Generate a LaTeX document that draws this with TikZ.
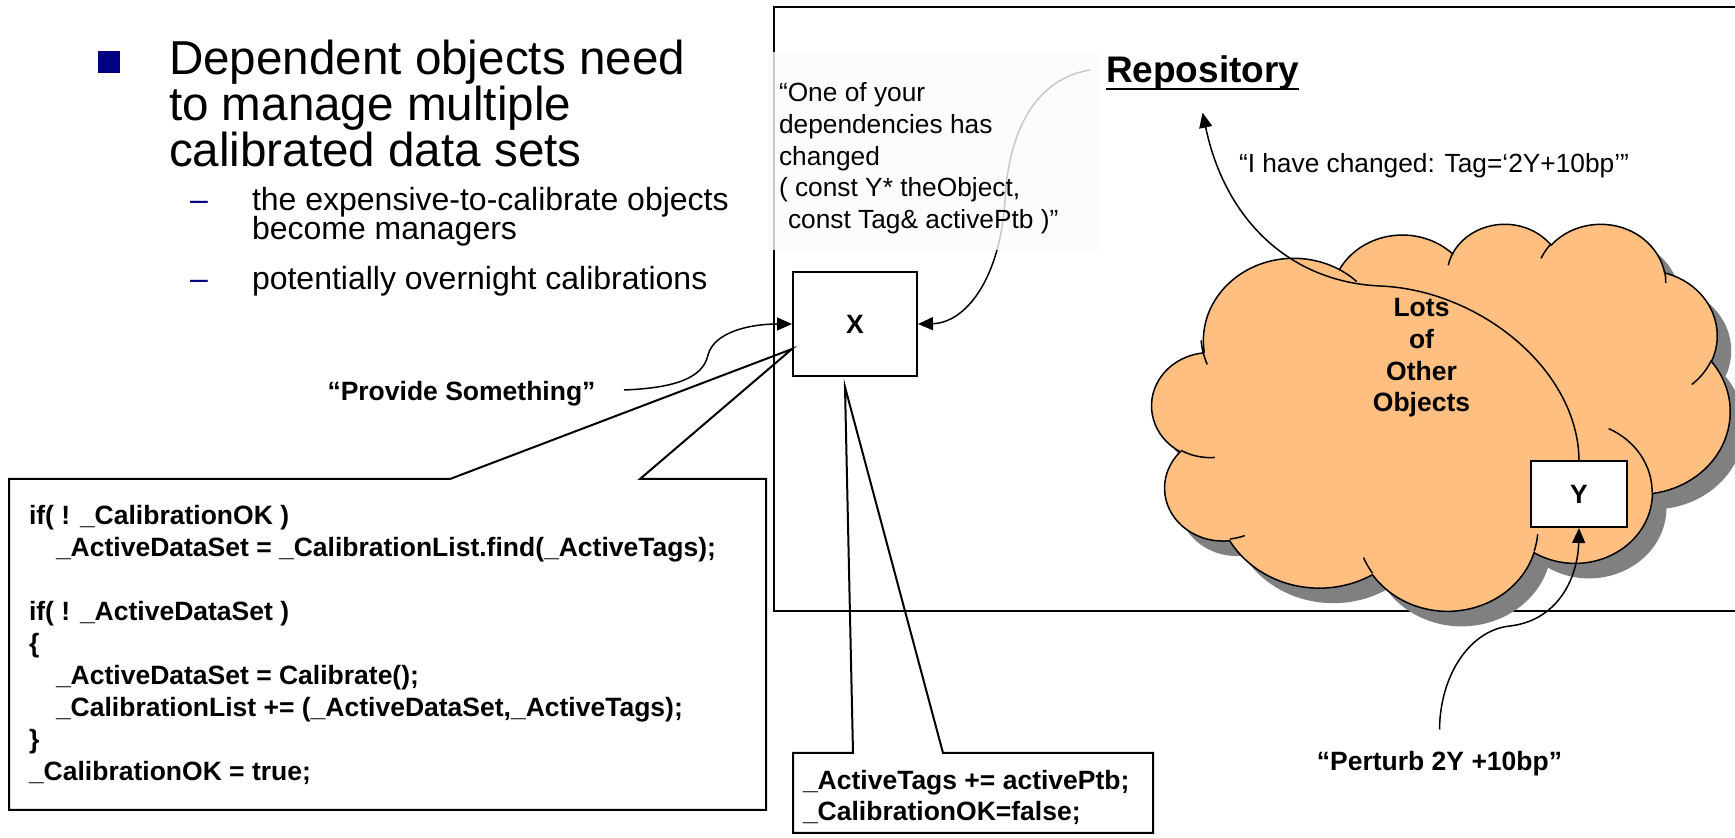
\documentclass[tikz,border=0pt]{standalone}
\usepackage{fontspec}
\setmainfont{Liberation Sans}
\usetikzlibrary{arrows.meta}
\definecolor{navy}{RGB}{0,0,128}
\definecolor{cloudfill}{RGB}{255,191,128}
\definecolor{cloudshadow}{RGB}{128,128,128}
\makeatletter
\newcommand\cldcalc[5]{%
  \pgfmathsetmacro\cld@a{atan2((#2)*sin(#4),(#3)*cos(#4))}%
  \pgfmathsetmacro\cld@b{atan2((#2)*sin((#4)+(#5)),(#3)*cos((#4)+(#5)))}%
  \pgfmathsetmacro\cld@b{(\cld@b<\cld@a) ? (\cld@b+360) : (\cld@b)}%
  \expandafter\xdef\csname cldS#1\endcsname{\cld@a}%
  \expandafter\xdef\csname cldE#1\endcsname{\cld@b}%
}
\makeatother
\newcommand\leftlines[2]{\vtop{\baselineskip=#1\relax\lineskiplimit=-100pt\lineskip=0pt\halign{##\hfil\cr#2\crcr}}}
\newcommand\centerlines[2]{\vtop{\baselineskip=#1\relax\lineskiplimit=-100pt\lineskip=0pt\halign{\hfil##\hfil\cr#2\crcr}}}
\tikzset{
  txt/.style={inner sep=0pt, outer sep=0pt},
  boldlbl/.style={txt, font=\fontsize{13.25}{16}\selectfont\bfseries},
  quotetxt/.style={txt, font=\fontsize{13.15}{16}\selectfont},
  conn/.style={line width=0.75pt, -{Triangle[length=7.5pt,width=6.5pt]}},
  boxline/.style={line width=1pt, fill=white, line join=miter},
  objbox/.style={draw, line width=1pt, fill=white, inner sep=0pt, font=\fontsize{13.25}{16}\selectfont\bfseries},
  cloudunits/.style={x=0.0668981pt, y=-0.0447917pt},
}
\def\cloudoutline{(390,1437)
 arc[start angle=\cldSa,end angle=\cldEa,x radius=675.3,y radius=919.0]
 arc[start angle=\cldSb,end angle=\cldEb,x radius=533.3,y radius=726.7]
 arc[start angle=\cldSc,end angle=\cldEc,x radius=436.5,y radius=594.5]
 arc[start angle=\cldSd,end angle=\cldEd,x radius=485.7,y radius=659.5]
 arc[start angle=\cldSe,end angle=\cldEe,x radius=533.3,y radius=727.3]
 arc[start angle=\cldSf,end angle=\cldEf,x radius=677.5,y radius=922.0]
 arc[start angle=\cldSg,end angle=\cldEg,x radius=578.5,y radius=786.7]
 arc[start angle=\cldSh,end angle=\cldEh,x radius=675.2,y radius=921.5]
 arc[start angle=\cldSi,end angle=\cldEi,x radius=772.0,y radius=1054.3]
 arc[start angle=\cldSj,end angle=\cldEj,x radius=436.0,y radius=591.8]
 arc[start angle=\cldSk,end angle=\cldEk,x radius=434.5,y radius=594.5] -- cycle}
\def\cloudinner{
 (469.3,2617.7) arc[start angle=\cldSia,end angle=\cldEia,x radius=434.5,y radius=594.5]
 (692.8,3489.9) arc[start angle=\cldSib,end angle=\cldEib,x radius=436.0,y radius=591.8]
 (1647.8,3909.0) arc[start angle=\cldSic,end angle=\cldEic,x radius=675.2,y radius=921.5]
 (2882.7,3475.1) arc[start angle=\cldSid,end angle=\cldEid,x radius=675.2,y radius=921.5]
 (3412.9,2295.4) arc[start angle=\cldSie,end angle=\cldEie,x radius=578.5,y radius=786.7]
 (4179.8,1535.4) arc[start angle=\cldSif,end angle=\cldEif,x radius=533.3,y radius=727.3]
 (3832.4,542.6) arc[start angle=\cldSig,end angle=\cldEig,x radius=485.7,y radius=659.5]
 (2907.8,395.2) arc[start angle=\cldSih,end angle=\cldEih,x radius=485.7,y radius=659.5]
 (2214.1,472.0) arc[start angle=\cldSii,end angle=\cldEii,x radius=436.5,y radius=594.5]
 (1400.0,519.2) arc[start angle=\cldSij,end angle=\cldEij,x radius=675.3,y radius=919.0]
 (412.7,1578.9) arc[start angle=\cldSik,end angle=\cldEik,x radius=675.3,y radius=919.0]}
\begin{document}
\begin{tikzpicture}[x=0.5pt,y=-0.5pt]
\useasboundingbox (0,0) rectangle (1735,838);
% cloud geometry (angles converted to parametric form)
\cldcalc{a}{675.3}{919.0}{-190.4875}{123.7805}
\cldcalc{b}{533.3}{726.7}{-144.1024}{89.9452}
\cldcalc{c}{436.5}{594.5}{-145.8079}{99.7230}
\cldcalc{d}{485.7}{659.5}{-130.9861}{117.2417}
\cldcalc{e}{533.3}{727.3}{-78.7089}{109.0269}
\cldcalc{f}{677.5}{922.0}{-46.2673}{130.2690}
\cldcalc{g}{578.5}{786.7}{0.6250}{114.0333}
\cldcalc{h}{675.2}{921.5}{22.4516}{115.1726}
\cldcalc{i}{772.0}{1054.3}{66.2426}{75.7110}
\cldcalc{j}{436.0}{591.8}{-274.9421}{146.7356}
\cldcalc{k}{434.5}{594.5}{-246.8285}{152.5189}
\cldcalc{ia}{434.5}{594.5}{86.7420}{26.4295}
\cldcalc{ib}{436.0}{591.8}{73.6105}{11.4475}
\cldcalc{ic}{675.2}{921.5}{137.6242}{14.0811}
\cldcalc{id}{675.2}{921.5}{6.4533}{15.9984}
\cldcalc{ie}{578.5}{786.7}{-70.2924}{70.9174}
\cldcalc{if}{533.3}{727.3}{30.3180}{27.7515}
\cldcalc{ig}{485.7}{659.5}{-13.7443}{14.8512}
\cldcalc{ih}{485.7}{659.5}{-149.1815}{18.1959}
\cldcalc{ii}{436.5}{594.5}{-163.4943}{17.6887}
\cldcalc{ij}{675.3}{919.0}{-66.7070}{12.3194}
\cldcalc{ik}{675.3}{919.0}{151.6712}{22.3910}

% bullet text
\fill[navy] (98,51) rectangle (120,73);
\node[txt, font=\fontsize{23.8}{23}\selectfont, anchor=base west] (title) at (169,75)
  {\leftlines{23pt}{Dependent objects need\cr to manage multiple\cr calibrated data sets}};
\node[txt, font=\fontsize{16}{14}\selectfont, text=navy, anchor=base west] (dash1) at (190,211) {\textendash};
\node[txt, font=\fontsize{16}{14}\selectfont, anchor=base west] (sub1) at (252,211)
  {\leftlines{14.15pt}{the expensive-to-calibrate objects\cr become managers}};
\node[txt, font=\fontsize{16}{14}\selectfont, text=navy, anchor=base west] (dash2) at (190,290) {\textendash};
\node[txt, font=\fontsize{16}{14}\selectfont, anchor=base west] (sub2) at (252,290) {potentially overnight calibrations};

% object X
\node[objbox, minimum width=62pt, minimum height=52pt] (X) at (855,324) {X};

% callouts
\draw[boxline] (9,479) -- (450,479) -- ([yshift=-12.5pt]X.west) -- (640,479) -- (766,479)
  -- (766,810) -- (9,810) -- cycle;
\draw[boxline] (793,753) -- (853,753) -- ([xshift=-5pt,yshift=-5pt]X.south) -- (943,753)
  -- (1153,753) -- (1153,833) -- (793,833) -- cycle;

% repository frame
\draw[line width=1pt] (1760,7) -- (774,7) -- (774,611) -- (1760,611);

% cloud
\begin{scope}[shift={(1166,238)}, cloudunits]
  \fill[cloudshadow] \cloudoutline;
\end{scope}
\begin{scope}[shift={(1152,223)}, cloudunits]
  \filldraw[fill=cloudfill, draw=black, line width=0.75pt] \cloudoutline;
  \draw[line width=0.75pt] \cloudinner;
\end{scope}

\node[objbox, minimum width=48pt, minimum height=33pt] (Y) at (1579,494) {Y};

% labels
\node[boldlbl, anchor=base] (provide) at (461.5,401) {“Provide Something”};
\node[txt, font=\fontsize{18.5}{22}\selectfont\bfseries, anchor=base west] (repo) at (1106,83) {Repository};
\draw[line width=1.25pt] ([yshift=-3pt]repo.base west) -- ([yshift=-3pt]repo.base east);
\node[quotetxt, anchor=base west] (changed) at (1239,173) {“I have changed: Tag=‘2Y+10bp’”};
\node[boldlbl, anchor=base] (lots) at (1421.5,316.7) {\centerlines{15.85pt}{Lots\cr of\cr Other\cr Objects}};
\node[boldlbl, anchor=base] (perturb) at (1439.5,770.7) {“Perturb 2Y +10bp”};
\node[boldlbl, anchor=base west] (code) at (29,525) {\leftlines{16pt}{if( ! \_CalibrationOK )\cr
\hskip13.5pt\_ActiveDataSet = \_CalibrationList.find(\_ActiveTags);\cr
\cr
if( ! \_ActiveDataSet )\cr
\{\cr
\hskip13.5pt\_ActiveDataSet = Calibrate();\cr
\hskip13.5pt\_CalibrationList += (\_ActiveDataSet,\_ActiveTags);\cr
\}\cr
\_CalibrationOK = true;}};
\node[boldlbl, anchor=base west] (tags) at (803,790) {\leftlines{15.5pt}{\_ActiveTags += activePtb;\cr \_CalibrationOK=false;}};

% connectors
\coordinate (pstart) at (624,390);
\coordinate (rstart) at (1090,70);
\draw[conn] (pstart) .. controls (675,388) and (703,378) .. (708,355)
  .. controls (714,332) and (750,324) .. (X.west);
\draw[conn] (rstart) .. controls (1030,80) and (1008,140) .. (1005,200)
  .. controls (1000,280) and (965,323) .. (X.east);
\draw[conn] (Y.north) .. controls (1578,370) and (1480,290) .. (1380,286)
  .. controls (1290,282) and (1225,220) .. ([yshift=-11pt]repo.south);
\draw[conn] ([yshift=11pt]perturb.north) .. controls (1440,675) and (1470,630) .. (1510,626)
  .. controls (1560,620) and (1578,575) .. (Y.south);

% translucent text box
\fill[white!98.5!black, opacity=0.8] (768,52) rectangle (1098,250);
\node[quotetxt, anchor=base west] (dep) at (779,101.7) {\leftlines{15.85pt}{“One of your\cr dependencies has\cr changed\cr ( const Y* theObject,\cr \hskip4.5pt const Tag\& activePtb )”}};
\end{tikzpicture}
\end{document}
